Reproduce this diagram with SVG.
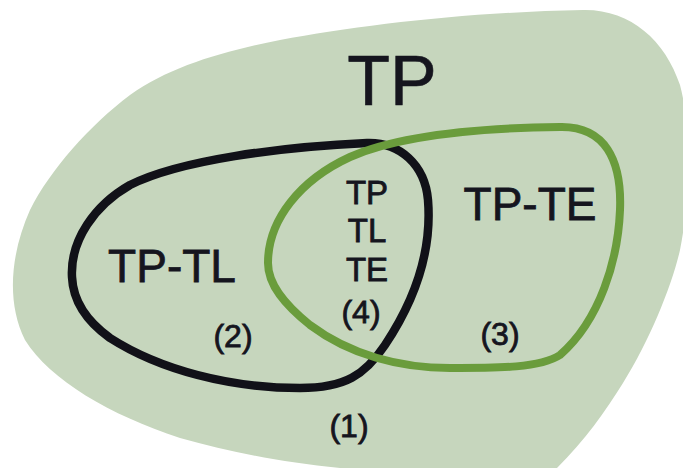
<svg xmlns="http://www.w3.org/2000/svg" width="683" height="468" viewBox="0 0 683 468">
  <style>
    .lbl { font-family: "Liberation Sans", Arial, sans-serif; fill: #15151e; text-anchor: middle; stroke: #15151e; stroke-width: 0.8; }
    .big { font-size: 70px; stroke-width: 0.6; }
    .mid { font-size: 46px; }
    .sm { font-size: 33px; }
    .num { font-size: 32px; }
    .loop { fill: none; stroke-linejoin: round; }
  </style>
  <rect width="683" height="468" fill="#ffffff"/>
  <g id="tp-blob">
    <path d="M 583 10 C 630 9, 665 40, 680 85 C 692 130, 690 200, 680 250 C 672 285, 650 340, 623 383 C 605 412, 585 440, 557 468 C 540 490, 420 478, 340 468 C 280 462, 230 452, 180 438 C 110 415, 50 380, 25 340 C 5 300, 12 250, 30 210 C 50 170, 90 125, 130 95 C 170 67, 220 52, 280 40 C 360 25, 470 12, 583 10 Z" fill="#c6d6bd"/>
    <text class="lbl big" x="392" y="105">TP</text>
    <text class="lbl num" x="349" y="437">(1)</text>
  </g>
  <g id="connectors"></g>
  <g id="tp-tl">
    <path class="loop" d="M 72 277 C 70 240, 95 205, 130 185 C 180 160, 280 147, 367 143 C 400 142, 425 165, 428 200 C 432 250, 415 300, 385 345 C 365 375, 345 388, 300 388 C 230 388, 160 370, 110 338 C 85 320, 73 300, 72 277 Z" stroke="#111118" stroke-width="8.5"/>
    <text class="lbl mid" x="172" y="282">TP-TL</text>
    <text class="lbl num" x="233" y="347">(2)</text>
  </g>
  <g id="tp-te">
    <path class="loop" d="M 268 263 C 268 220, 300 180, 350 157 C 400 135, 480 128, 560 127 C 605 126, 622 160, 620 210 C 618 260, 600 320, 560 355 C 540 368, 500 368, 450 368 C 400 368, 350 355, 310 325 C 285 305, 268 285, 268 263 Z" stroke="#6a9c3c" stroke-width="8"/>
    <text class="lbl mid" x="530" y="220">TP-TE</text>
    <text class="lbl num" x="500" y="345">(3)</text>
  </g>
  <g id="tp-tl-te">
    <text class="lbl sm" x="367" y="204">TP</text>
    <text class="lbl sm" x="367" y="242">TL</text>
    <text class="lbl sm" x="367" y="281">TE</text>
    <text class="lbl num" x="361" y="323">(4)</text>
  </g>
</svg>
